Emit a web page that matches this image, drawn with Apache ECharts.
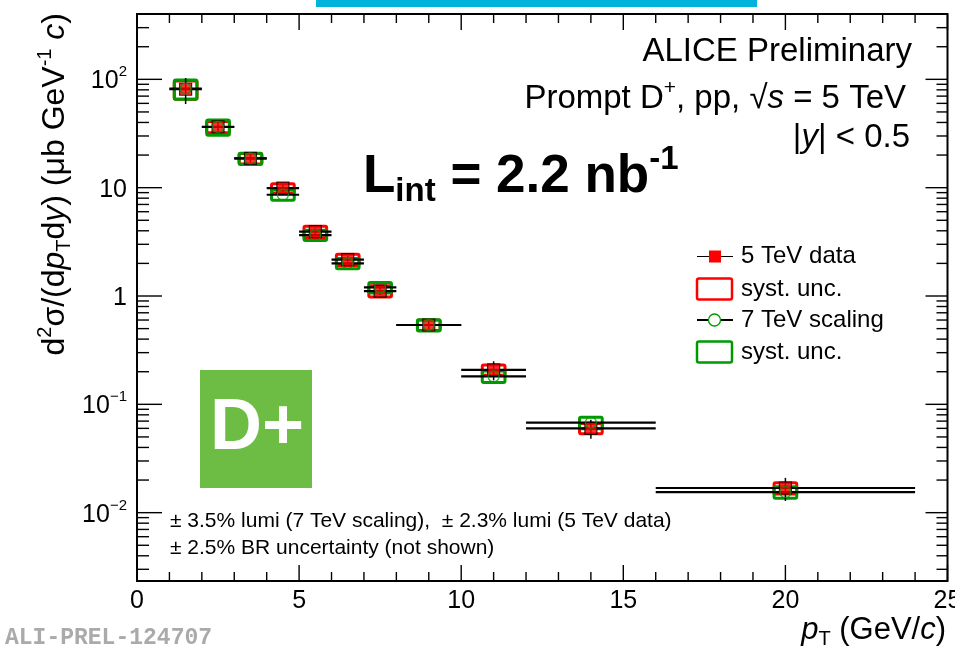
<!DOCTYPE html>
<html>
<head>
<meta charset="utf-8">
<script src="https://cdn.jsdelivr.net/npm/echarts@6/dist/echarts.min.js"></script>
<style>
  html, body { margin: 0; padding: 0; background: #fff; }
  #chart { width: 955px; height: 646px; }
</style>
</head>
<body>
<div id="chart"></div>
<script>
// pT bins (GeV/c)
const binLow    = [1, 2, 3, 4, 5, 6, 7, 8, 10, 12, 16];
const binHigh   = [2, 3, 4, 5, 6, 7, 8, 10, 12, 16, 24];
const binCenter = [1.5, 2.5, 3.5, 4.5, 5.5, 6.5, 7.5, 9, 11, 14, 20];

// Prompt D+ cross section in pp at 5 TeV (µb GeV^-1 c)
const data5TeV = [81, 36.5, 18.6, 9.9, 3.93, 2.17, 1.11, 0.54, 0.208, 0.060, 0.0169];
// relative statistical and systematic uncertainties
const stat5TeV = [0.27, 0.10, 0.08, 0.08, 0.08, 0.08, 0.08, 0.08, 0.20, 0.20, 0.24];
const syst5TeV = [0.19, 0.12, 0.11, 0.10, 0.12, 0.12, 0.12, 0.11, 0.11, 0.11, 0.12];

// 7 TeV measurement scaled to 5 TeV
const scaled7TeV = [82, 36.3, 18.6, 8.6, 3.65, 2.0, 1.2, 0.54, 0.181, 0.0678, 0.01545];
const syst7TeV   = [0.20, 0.16, 0.12, 0.11, 0.11, 0.11, 0.11, 0.12, 0.12, 0.12, 0.12];

// axes
const xMin = 0, xMax = 25, xStep = 5;
const yMin = 0.00234, yMax = 401;
const xTickLabels = [0, 5, 10, 15, 20, 25];
const yDecades = [0.01, 0.1, 1, 10, 100];

const FONT = '"Liberation Sans", Arial, Helvetica, sans-serif';
const BOX_HALF = 0.35;      // half width of systematic boxes in GeV/c

function richSet(F, bold) {
  const S = Math.round(F * 0.63);
  const pt = Math.round(F * 0.14), pb = Math.round(F * 0.1);
  const w = bold ? 'bold' : 'normal';
  const base = { fontSize: F, fontFamily: FONT, fontWeight: w, fill: '#000', color: '#000' };
  return {
    n:   Object.assign({}, base, { padding: [pt, 0, pb, 0] }),
    i:   Object.assign({}, base, { fontStyle: 'italic', padding: [pt, 0, pb, 0] }),
    sup: Object.assign({}, base, { fontSize: S, verticalAlign: 'top' }),
    sub: Object.assign({}, base, { fontSize: S, verticalAlign: 'bottom' })
  };
}

const chart = echarts.init(document.getElementById('chart'), null, { renderer: 'canvas' });

// tick marks on all four frame sides
const tickData = [];
for (let v = xMin; v <= xMax + 1e-9; v += 1) {
  const major = Math.abs(v % xStep) < 1e-9;
  const len = major ? 16 : 9;
  tickData.push([v, yMin, 0, -len]);
  tickData.push([v, yMax, 0, len]);
}
for (let e = -3; e <= 2; e++) {
  for (let m = 1; m <= 9; m++) {
    const v = m * Math.pow(10, e);
    if (v < yMin || v > yMax) continue;
    const major = m === 1;
    tickData.push([xMin, v, major ? 25 : 12, 0]);
    tickData.push([xMax, v, major ? -22 : -11, 0]);
  }
}

const boxes5 = binCenter.map((x, i) => [x, data5TeV[i], syst5TeV[i]]);
const boxes7 = binCenter.map((x, i) => [x, scaled7TeV[i], syst7TeV[i]]);
const bars5 = binCenter.map((x, i) => [binLow[i], binHigh[i], data5TeV[i]]);
const bars7 = binCenter.map((x, i) => [binLow[i], binHigh[i], scaled7TeV[i]]);
const stat5 = binCenter.map((x, i) => [x, data5TeV[i], stat5TeV[i]]);
const points5 = binCenter.map((x, i) => [x, data5TeV[i]]);
const points7 = binCenter.map((x, i) => [x, scaled7TeV[i]]);

function boxRenderer(color) {
  return function (params, api) {
    const x = api.value(0), y = api.value(1), s = api.value(2);
    const p1 = api.coord([x - BOX_HALF, y * (1 + s)]);
    const p2 = api.coord([x + BOX_HALF, y * (1 - s)]);
    return {
      type: 'rect',
      shape: { x: p1[0], y: p1[1], width: p2[0] - p1[0], height: p2[1] - p1[1], r: 1.5 },
      style: { fill: 'none', stroke: color, lineWidth: 3 }
    };
  };
}
function barRenderer(params, api) {
  const y = api.value(2);
  const a = api.coord([api.value(0), y]);
  const b = api.coord([api.value(1), y]);
  return {
    type: 'line',
    shape: { x1: a[0], y1: a[1], x2: b[0], y2: b[1] },
    style: { stroke: '#000', lineWidth: 2.2 }
  };
}
function statRenderer(params, api) {
  const x = api.value(0), y = api.value(1), r = api.value(2);
  const top = api.coord([x, y * (1 + r)]);
  const bot = api.coord([x, y * (1 - r)]);
  return {
    type: 'line',
    shape: { x1: top[0], y1: top[1], x2: bot[0], y2: bot[1] },
    style: { stroke: '#000', lineWidth: 1.5 }
  };
}
function tickRenderer(params, api) {
  const p = api.coord([api.value(0), api.value(1)]);
  return {
    type: 'line',
    shape: { x1: p[0], y1: p[1], x2: p[0] + api.value(2), y2: p[1] + api.value(3) },
    style: { stroke: '#000', lineWidth: 1.4 }
  };
}

const supRich = {
  b:   { fontSize: 25, fontFamily: FONT, color: '#000', padding: [4, 0, 0, 0] },
  sup: { fontSize: 15, fontFamily: FONT, color: '#000', verticalAlign: 'top' }
};

const r33 = richSet(33, false);
const r31 = richSet(31, false);
const r32 = richSet(32, false);
const rL = richSet(53, true);

const option = {
  animation: false,
  backgroundColor: '#fff',
  grid: {
    left: 137, right: 7.5, top: 14, bottom: 65,
    show: true, borderColor: '#000', borderWidth: 2,
    containLabel: false, outerBoundsMode: 'none'
  },
  xAxis: {
    type: 'value', min: xMin, max: xMax, interval: xStep,
    axisLine: { show: false }, axisTick: { show: false }, splitLine: { show: false },
    axisLabel: {
      fontSize: 25, fontFamily: FONT, color: '#000', margin: 8,
      formatter: v => (xTickLabels.indexOf(v) >= 0 ? String(v) : '')
    }
  },
  yAxis: {
    type: 'log', logBase: 10, min: yMin, max: yMax,
    axisLine: { show: false }, axisTick: { show: false }, splitLine: { show: false },
    axisLabel: {
      margin: 10, color: '#000', fontFamily: FONT, fontSize: 25,
      rich: supRich,
      formatter: function (v) {
        const l = Math.log10(v);
        const e = Math.round(l);
        if (Math.abs(l - e) > 1e-6 || yDecades.indexOf(Math.pow(10, e)) < 0 && e !== 2 && e !== -2) return '';
        if (e === 1) return '{b|10}';
        if (e === 0) return '{b|1}';
        return '{b|10}{sup|' + (e < 0 ? '\u2212' + (-e) : String(e)) + '}';
      }
    }
  },
  series: [
    { type: 'custom', name: 'syst. unc. 5 TeV', data: boxes5, renderItem: boxRenderer('#ff0000'), encode: { x: 0, y: 1 }, z: 2 },
    { type: 'custom', name: 'syst. unc. 7 TeV', data: boxes7, renderItem: boxRenderer('#009a00'), encode: { x: 0, y: 1 }, z: 3 },
    { type: 'custom', name: '7 TeV bins', data: bars7, renderItem: barRenderer, encode: { x: [0, 1], y: 2 }, z: 4 },
    { type: 'custom', name: '5 TeV bins', data: bars5, renderItem: barRenderer, encode: { x: [0, 1], y: 2 }, z: 4 },
    { type: 'custom', name: '5 TeV stat', data: stat5, renderItem: statRenderer, encode: { x: 0, y: 1 }, z: 5 },
    {
      type: 'scatter', name: '5 TeV data', data: points5, symbol: 'rect', symbolSize: 12,
      itemStyle: { color: '#ff0000', borderColor: '#000', borderWidth: 1.2 }, z: 6
    },
    {
      type: 'scatter', name: '7 TeV scaling', data: points7, symbol: 'circle', symbolSize: 11,
      itemStyle: { color: 'rgba(0,0,0,0)', borderColor: '#009a00', borderWidth: 1.3 }, z: 7
    },
    { type: 'custom', name: 'ticks', data: tickData, renderItem: tickRenderer, encode: { x: 0, y: 1 }, z: 8, silent: true }
  ],
  graphic: [
    // header bar
    { type: 'rect', shape: { x: 316, y: 0, width: 441, height: 7 }, style: { fill: '#00b2dc' } },

    // D+ badge
    { type: 'rect', shape: { x: 200, y: 370, width: 112, height: 118 }, style: { fill: '#6dbd45' } },
    { type: 'text', x: 257, y: 429, style: { text: 'D+', fill: '#fff', fontSize: 72, fontWeight: 'bold', fontFamily: FONT, align: 'center', verticalAlign: 'middle' } },

    // labels
    { type: 'text', x: 912, y: 52, style: { text: 'ALICE Preliminary', fill: '#000', fontSize: 33, fontFamily: FONT, align: 'right', verticalAlign: 'middle' } },
    { type: 'text', x: 906, y: 98, style: {
        text: '{n|Prompt D}{sup|+}{n|, pp, \u221A}{i|s}{n| = 5 TeV}', rich: r33, align: 'right', verticalAlign: 'middle' } },
    { type: 'text', x: 910, y: 137, style: {
        text: '{n|\u007C}{i|y}{n|\u007C < 0.5}', rich: r33, align: 'right', verticalAlign: 'middle' } },
    { type: 'text', x: 363, y: 176, style: {
        text: '{n|L}{sub|int}{n| = 2.2 nb}{sup|-1}', rich: rL, align: 'left', verticalAlign: 'middle' } },

    // legend
    { type: 'line', shape: { x1: 697, y1: 256.5, x2: 733, y2: 256.5 }, style: { stroke: '#000', lineWidth: 1.2 } },
    { type: 'rect', shape: { x: 709, y: 250.5, width: 12, height: 12 }, style: { fill: '#ff0000' } },
    { type: 'text', x: 741, y: 256.5, style: { text: '5 TeV data', fill: '#000', fontSize: 24, fontFamily: FONT, verticalAlign: 'middle' } },
    { type: 'rect', shape: { x: 697, y: 278.5, width: 35, height: 21, r: 2 }, style: { fill: 'none', stroke: '#ff0000', lineWidth: 2.5 } },
    { type: 'text', x: 741, y: 289, style: { text: 'syst. unc.', fill: '#000', fontSize: 24, fontFamily: FONT, verticalAlign: 'middle' } },
    { type: 'line', shape: { x1: 697, y1: 320, x2: 733, y2: 320 }, style: { stroke: '#000', lineWidth: 2 } },
    { type: 'circle', shape: { cx: 714.5, cy: 320, r: 6 }, style: { fill: '#fff', stroke: '#009a00', lineWidth: 1.3 } },
    { type: 'text', x: 741, y: 320, style: { text: '7 TeV scaling', fill: '#000', fontSize: 24, fontFamily: FONT, verticalAlign: 'middle' } },
    { type: 'rect', shape: { x: 697, y: 341.5, width: 35, height: 21, r: 2 }, style: { fill: 'none', stroke: '#009a00', lineWidth: 2.5 } },
    { type: 'text', x: 741, y: 352, style: { text: 'syst. unc.', fill: '#000', fontSize: 24, fontFamily: FONT, verticalAlign: 'middle' } },

    // normalisation notes
    { type: 'text', x: 170, y: 521, style: { text: '\u00B1 3.5% lumi (7 TeV scaling),  \u00B1 2.3% lumi (5 TeV data)', fill: '#000', fontSize: 21, fontFamily: FONT, verticalAlign: 'middle' } },
    { type: 'text', x: 170, y: 548, style: { text: '\u00B1 2.5% BR uncertainty (not shown)', fill: '#000', fontSize: 21, fontFamily: FONT, verticalAlign: 'middle' } },

    // axis titles
    { type: 'text', x: 946, y: 630, style: {
        text: '{i|p}{sub|T}{n| (GeV/}{i|c}{n|)}', rich: r31, align: 'right', verticalAlign: 'middle' } },
    { type: 'text', x: 55, y: 13, rotation: Math.PI / 2, style: {
        text: '{n|d}{sup|2}{n|\u03C3/(d}{i|p}{sub|T}{n|d}{i|y}{n|) (\u03BCb GeV}{sup|-1}{n| }{i|c}{n|)}',
        rich: r32, align: 'right', verticalAlign: 'middle' } },

    // figure id
    { type: 'text', x: 5, y: 638, style: { text: 'ALI-PREL-124707', fill: '#aaaaaa', fontSize: 23, fontWeight: 'bold', fontFamily: '"Liberation Mono", "DejaVu Sans Mono", monospace', verticalAlign: 'middle' } }
  ]
};

chart.setOption(option);
</script>
</body>
</html>
